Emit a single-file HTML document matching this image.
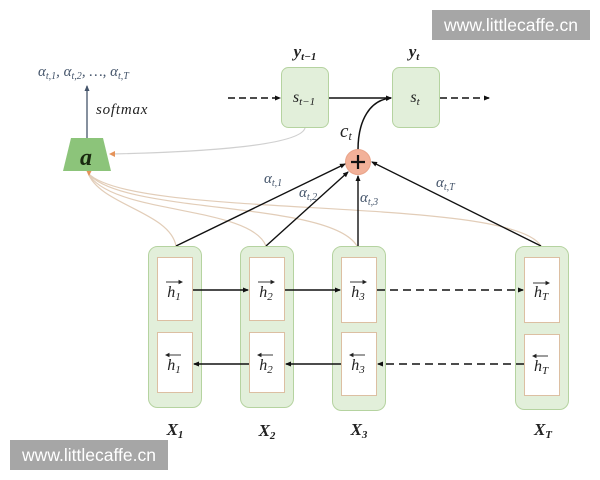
<!DOCTYPE html>
<html><head><meta charset="utf-8"><style>
html,body{margin:0;padding:0;background:#fff;}
svg{display:block;}
.m{font-family:"Liberation Serif",serif;font-style:italic;}
.b{font-weight:bold;}
</style></head><body>
<svg width="600" height="480" viewBox="0 0 600 480" xmlns="http://www.w3.org/2000/svg">
<defs>
<marker id="ah" markerWidth="6" markerHeight="6" refX="5" refY="3" orient="auto" markerUnits="userSpaceOnUse"><path d="M0,0.5 L6,3 L0,5.5 z" fill="#111"/></marker>
<marker id="ahb" markerWidth="6" markerHeight="6" refX="5" refY="3" orient="auto" markerUnits="userSpaceOnUse"><path d="M0,0.5 L6,3 L0,5.5 z" fill="#44546a"/></marker>
</defs>

<!-- watermarks -->
<rect x="432" y="10" width="158" height="30" fill="#a6a6a6"/>
<text x="511" y="31" text-anchor="middle" font-family="Liberation Sans, sans-serif" font-size="17.5" fill="#fff">www.littlecaffe.cn</text>
<rect x="10" y="440" width="158" height="30" fill="#a6a6a6"/>
<text x="89" y="461" text-anchor="middle" font-family="Liberation Sans, sans-serif" font-size="17.5" fill="#fff">www.littlecaffe.cn</text>

<!-- curves to a -->
<g fill="none" stroke="#e2cdb8" stroke-width="1.2">
<path d="M176,246 C170,212 100,205 88,173"/>
<path d="M266,246 C250,205 110,215 88,173"/>
<path d="M357,246 C330,200 120,215 88,173"/>
<path d="M541,246 C510,195 130,220 88,173"/>
</g>
<path d="M89,176 L86,170 L92,170 z" fill="#e5935a"/>
<path d="M305,128 C300,146 200,152 111,154" fill="none" stroke="#d0d0d0" stroke-width="1.2"/>
<path d="M109,154 L115,151 L115,157 z" fill="#e5935a"/>

<!-- trapezoid a -->
<polygon points="71,138 103,138 111,171 63,171" fill="#8cc47a"/>
<text x="86" y="165" text-anchor="middle" class="m b" font-size="24" fill="#1a2a10">a</text>
<line x1="87" y1="138" x2="87" y2="86" stroke="#44546a" stroke-width="1.3" marker-end="url(#ahb)"/>
<text x="96" y="114" class="m" font-size="15" fill="#222" letter-spacing="0.8">softmax</text>
<text x="38" y="76" class="m" font-size="15" fill="#44546a">α<tspan font-size="10" dy="3">t,1</tspan><tspan dy="-3">, α</tspan><tspan font-size="10" dy="3">t,2</tspan><tspan dy="-3">, …, α</tspan><tspan font-size="10" dy="3">t,T</tspan></text>

<!-- top decoder -->
<rect x="281.5" y="67.5" width="47" height="60" rx="7" fill="#e2efda" stroke="#b5d3a0"/>
<rect x="392.5" y="67.5" width="47" height="60" rx="7" fill="#e2efda" stroke="#b5d3a0"/>
<text x="304" y="102" text-anchor="middle" class="m" font-size="16" fill="#222">s<tspan font-size="11" dy="3">t−1</tspan></text>
<text x="415" y="102" text-anchor="middle" class="m" font-size="16" fill="#222">s<tspan font-size="11" dy="3">t</tspan></text>
<text x="305" y="57" text-anchor="middle" class="m b" font-size="17" fill="#222">y<tspan font-size="11" dy="3">t−1</tspan></text>
<text x="414" y="57" text-anchor="middle" class="m b" font-size="17" fill="#222">y<tspan font-size="11" dy="3">t</tspan></text>
<line x1="228" y1="98" x2="280" y2="98" stroke="#111" stroke-width="1.5" stroke-dasharray="7,4" marker-end="url(#ah)"/>
<line x1="329" y1="98" x2="391" y2="98" stroke="#111" stroke-width="1.5" marker-end="url(#ah)"/>
<line x1="440" y1="98" x2="489" y2="98" stroke="#111" stroke-width="1.5" stroke-dasharray="7,4" marker-end="url(#ah)"/>
<path d="M358,150 C358,120 370,100 391,98" fill="none" stroke="#111" stroke-width="1.5" marker-end="url(#ah)"/>
<text x="340" y="137" class="m" font-size="19" fill="#222">c<tspan font-size="12" dy="3">t</tspan></text>

<!-- circle -->
<circle cx="358" cy="162" r="12.5" fill="#f2b199" stroke="#e9a48a"/>
<path d="M351,162 H365 M358,155 V169" stroke="#111" stroke-width="2.2"/>

<!-- lines to circle -->
<g stroke="#111" stroke-width="1.4" fill="none">
<line x1="176" y1="246" x2="345" y2="164" marker-end="url(#ah)"/>
<line x1="266" y1="246" x2="348" y2="172" marker-end="url(#ah)"/>
<line x1="358" y1="246" x2="358" y2="176" marker-end="url(#ah)"/>
<line x1="541" y1="246" x2="372" y2="162" marker-end="url(#ah)"/>
</g>
<g class="m" font-size="15" fill="#44546a">
<text x="264" y="183">α<tspan font-size="10" dy="3">t,1</tspan></text>
<text x="299" y="197">α<tspan font-size="10" dy="3">t,2</tspan></text>
<text x="360" y="202">α<tspan font-size="10" dy="3">t,3</tspan></text>
<text x="436" y="187">α<tspan font-size="10" dy="3">t,T</tspan></text>
</g>

<!-- encoder columns -->
<g fill="#e2efda" stroke="#b5d3a0">
<rect x="148.5" y="246.5" width="53" height="161" rx="9"/>
<rect x="240.5" y="246.5" width="53" height="161" rx="9"/>
<rect x="332.5" y="246.5" width="53" height="164" rx="9"/>
<rect x="515.5" y="246.5" width="53" height="163" rx="9"/>
</g>
<g fill="#fff" stroke="#dcbfa2">
<rect x="157.5" y="257.5" width="35" height="63"/>
<rect x="157.5" y="332.5" width="35" height="60"/>
<rect x="249.5" y="257.5" width="35" height="63"/>
<rect x="249.5" y="332.5" width="35" height="60"/>
<rect x="341.5" y="257.5" width="35" height="65"/>
<rect x="341.5" y="332.5" width="35" height="63"/>
<rect x="524.5" y="257.5" width="35" height="65"/>
<rect x="524.5" y="334.5" width="35" height="61"/>
</g>

<!-- h labels -->
<g class="m" font-size="16" fill="#222" text-anchor="middle">
<text x="174" y="297">h<tspan font-size="11" dy="3">1</tspan></text>
<text x="266" y="297">h<tspan font-size="11" dy="3">2</tspan></text>
<text x="358" y="297">h<tspan font-size="11" dy="3">3</tspan></text>
<text x="541" y="297">h<tspan font-size="11" dy="3">T</tspan></text>
<text x="174" y="370">h<tspan font-size="11" dy="3">1</tspan></text>
<text x="266" y="370">h<tspan font-size="11" dy="3">2</tspan></text>
<text x="358" y="370">h<tspan font-size="11" dy="3">3</tspan></text>
<text x="541" y="371">h<tspan font-size="11" dy="3">T</tspan></text>
</g>
<g stroke="#222" stroke-width="0.9" fill="#222">
<line x1="166" y1="282" x2="181" y2="282"/><path d="M182,282 l-3,-1.5 v3 z"/>
<line x1="258" y1="282" x2="273" y2="282"/><path d="M274,282 l-3,-1.5 v3 z"/>
<line x1="350" y1="282" x2="365" y2="282"/><path d="M366,282 l-3,-1.5 v3 z"/>
<line x1="533" y1="283" x2="548" y2="283"/><path d="M549,283 l-3,-1.5 v3 z"/>
<line x1="167" y1="355" x2="181" y2="355"/><path d="M166,355 l3,-1.5 v3 z"/>
<line x1="259" y1="355" x2="273" y2="355"/><path d="M258,355 l3,-1.5 v3 z"/>
<line x1="351" y1="355" x2="365" y2="355"/><path d="M350,355 l3,-1.5 v3 z"/>
<line x1="534" y1="356" x2="548" y2="356"/><path d="M533,356 l3,-1.5 v3 z"/>
</g>

<!-- horizontal arrows -->
<g stroke="#111" stroke-width="1.4" fill="none">
<line x1="193" y1="290" x2="248" y2="290" marker-end="url(#ah)"/>
<line x1="285" y1="290" x2="340" y2="290" marker-end="url(#ah)"/>
<line x1="377" y1="290" x2="523" y2="290" stroke-dasharray="8,5" marker-end="url(#ah)"/>
<line x1="249" y1="364" x2="194" y2="364" marker-end="url(#ah)"/>
<line x1="341" y1="364" x2="286" y2="364" marker-end="url(#ah)"/>
<line x1="524" y1="364" x2="378" y2="364" stroke-dasharray="8,5" marker-end="url(#ah)"/>
</g>

<!-- X labels -->
<g class="m b" font-size="17" fill="#222" text-anchor="middle">
<text x="175" y="435">X<tspan font-size="11" dy="3">1</tspan></text>
<text x="267" y="436">X<tspan font-size="11" dy="3">2</tspan></text>
<text x="359" y="435">X<tspan font-size="11" dy="3">3</tspan></text>
<text x="543" y="435">X<tspan font-size="11" dy="3">T</tspan></text>
</g>
</svg>
</body></html>
